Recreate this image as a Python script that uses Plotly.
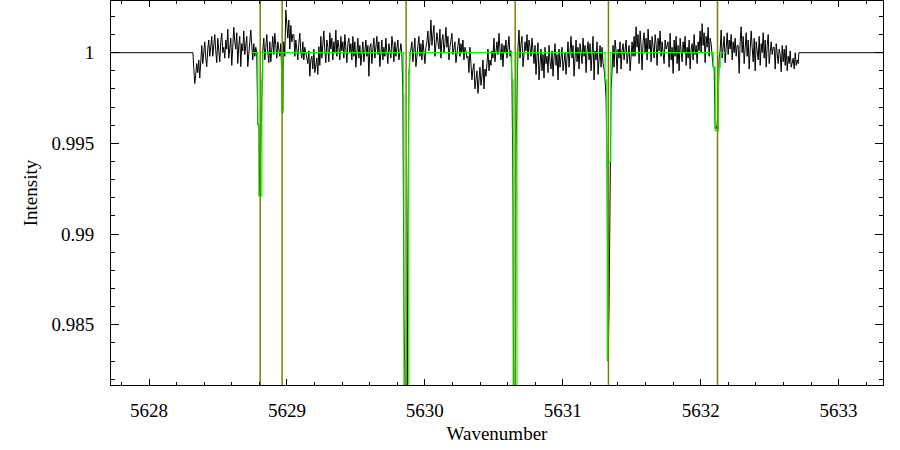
import plotly.graph_objects as go

# ---------------- data ----------------
# observed spectrum: uniform wavenumber grid, values as offsets from 1 in units of 1e-5
spec_start = 5628.324
spec_step = 0.0072569
spec_offset_1e5 = [
    -80, -170, -120, -60, -110, -40, -140, -20,
    40, -60, 10, 60, -30, -77, 20, 70, -20, 30,
    90, -20, 40, 100, 10, -55, 80, 30, -50, 60, 107, 0, 30, -30, 70, 20,
    130, -30, 50, 80, -70, 20, 140, 60, 20, 110, -60, 40, 90, -77, 50, 10,
    120, -10, 40, 90, -77, 20, 60, 125, 10, -40, 50, -20, 30, 0,
    -395, -395, -790, -500, -150, 10,
    80, -40, 30, 100, 0, -55, 60, -50, 20, 90, -10, 107, 40, -30, 60, 10, -20, 50,
    -180, -320,
    60, -20, 235, 120, 80, 180, 20, 150, 60, 100,
    100, -20, 70, 20, -40, 50, 107, 0, -30, 60, -40, 30, -10, -30,
    -60, 10, -130, -40, -20, -90, 20, -110, -70, -30, -120, 33, -70,
    90, -30, 50, 120, 10, -55, 70, 30, -50, 110, 20, 80, -40, 60, 0, 125, -20, 70, 30, -40,
    90, 10, 60, -30, 100, 20, -55, 50, 80, 0,
    50, -40, 90, -20, 60, -80, 30, 80, -30, 40, -70, 20, 60, -50, 10, 70, -20, 40, -130, 30,
    50, -60, 20, 80, -30, 40, 90, -10, 60, -77, 20, 70, -40, 30, -20, 80, 0, -60, 50, 10,
    -30, 90, 40, -50, 60, -20, 30, 70, -40, 20, 50, -10,
    -230, -1430, -2500, -2500, -2500, -980, -120, -20, 30,
    60, -50, 20, 80, -77, 0, 40, 90, -20, 50, -40, 70, 10, -60, 30, 60,
    120, 10, 60, 180, 40, 90, 150, -20, 80, 110, 60, 20, 130, -30, 70, 100, 0, 50, 140, 30,
    90, -40, 30, 70, 107, -10, 40, 60, -55, 20, 40, 80, -20, 50, 0, 70, -40, 30, 10, -30,
    -20, -110, 30, -60, -150, -90, -60, -200, -120, -100, -224, -150, -80, -180, -130, -40,
    -200, -90, -130, -60, 20, -100, -40, -70, 10, -30,
    80, -50, 30, 60, -10, 107, 20, -40, 50, -77, 40, 0, 70, -30, 30, 90, -20, 10,
    -150, -800, -2500, -2500, -550, -200, 30,
    125, -30, 50, 90, -77, 20, 60, 10, 100, -40, 70, 30, -20, 80, 0,
    -60, 40, -120, -20, 55, -150, -40, 20, -100, -10, -140, 30, -60, -20, -110, 40, -50,
    -90, 10, -130, -30, 50, -70, -10, -150, 20, -80, -40, 30, -100, -60, 0, -120, 20,
    60, -80, 20, 90, -30, 40, -130, 20, 70, -50, 30, -90, 50, 0, -60, 80, -20, 40, -110, 10, 60, -40,
    50, -100, 20, 90, -150, 10, -40, 60, -120, 0, 40, -80, 30, -60, -90,
    -150, -250, -600, -1700, -1400, -600, -200, -100,
    40, -80, 70, 10, -114, 20, -30, 60, -90, 10, 50, -40, 30, 70, -60, 0, 40, -100, 20, 60, -20,
    90, -20, 143, 30, 100, -60, 120, 40, -95, 60, 110, 0, 80, -40, 130, 20, 70, -50, 90, 30,
    -30, 100, 50, -70, 80, 10, 120, -20, 60, 0, -60, 70, 20, 40,
    60, -80, 107, -40, 30, -114, 70, -20, 90, -60, 40, -100, 80, 10, -50, 60, 0, 90, -70, 30,
    -30, 70, -90, 20, 50, -40, 100, -10, 40, -60, 60, 10,
    120, 0, 160, 40, 110, -55, 90, 30, 140, -20, 80, 50, -10,
    -80, -80, -420, -420, -400, -300, -30, 10,
    125, -30, 50, 90, -55, 60, 110, -10, 70, 20, 100, -40, 60, 0, 80, -20, 40,
    40, -114, 60, 143, 0, 90, -60, 30, 110, -20, 70, -90, 20, 120, 30, -50, 80, -100, 60, 10,
    -40, 90, -70, 50, 0, 110, -30, 70, -80, 40, 100, -60, 20, 60, -10, 30,
    30, -90, 50, -20, -60, 20, -10, -105, 40, -50, 20, -70, 40, -100, -20, -60, 10, -80, -50, -30,
    -90, 0, -70, -40, -60,
]
# flat continuum outside the observed range
flat_left_x = [5627.5, 5628.318]
flat_right_x = [5632.712, 5633.5]
flat_y = [1.0, 1.0]

# fitted model (stepped)
model_x = [5628.743, 5628.789, 5628.796, 5628.818, 5628.825, 5628.962, 5628.972,
           5629.843, 5629.848, 5629.883, 5629.890, 5630.630, 5630.640, 5630.668,
           5631.307, 5631.319, 5631.322, 5631.330, 5631.348, 5632.091, 5632.105,
           5632.128, 5632.142, 5632.178]
model_y = [1.0, 0.9960, 0.9921, 0.9985, 1.0, 0.9967, 1.0,
           0.9977, 0.975, 0.9988, 1.0, 0.9985, 0.975, 1.0,
           0.9985, 0.9940, 0.9831, 0.9940, 1.0, 0.9992, 0.9957,
           0.9992, 1.0, 1.0]

# line position markers
line_positions = [5628.806, 5628.965, 5629.864, 5630.655, 5631.331, 5632.122]

x_range = [5627.724, 5633.322]
y_range = [0.98168, 1.00285]
x_ticks = [5628, 5629, 5630, 5631, 5632, 5633]
y_ticks = [0.985, 0.99, 0.995, 1.0]
y_tick_text = ["0.985", "0.99", "0.995", "1"]

# ---------------- figure ----------------
spec_x = [spec_start + spec_step * i for i in range(len(spec_offset_1e5))]
spec_y = [1 + v * 1e-5 for v in spec_offset_1e5]

all_x = flat_left_x + spec_x + flat_right_x
all_y = flat_y + spec_y + flat_y

fig = go.Figure()
fig.add_trace(go.Scatter(x=all_x, y=all_y, mode="lines",
                         line=dict(color="black", width=1), showlegend=False))
fig.add_trace(go.Scatter(x=model_x, y=model_y, mode="lines", line_shape="hv",
                         line=dict(color="#00ff00", width=1.2), showlegend=False))
for lp in line_positions:
    fig.add_trace(go.Scatter(x=[lp, lp], y=[y_range[0] - 0.01, y_range[1] + 0.01],
                             mode="lines", line=dict(color="#808000", width=1.5),
                             showlegend=False))

font = dict(family="Liberation Serif, Times New Roman, serif", size=19, color="black")

fig.update_layout(
    width=900, height=450,
    margin=dict(l=111, r=17, t=1, b=65),
    paper_bgcolor="white", plot_bgcolor="white",
    font=font,
    xaxis=dict(range=x_range, tickvals=x_ticks, ticks="inside", ticklen=6,
               tickcolor="black", showline=True, linecolor="black", linewidth=1,
               mirror="allticks", showgrid=False, zeroline=False,
               minor=dict(dtick=0.2, tick0=5628, ticks="inside", ticklen=3,
                          tickcolor="black", showgrid=False),
               ticklabelstandoff=8,
               title=dict(text="Wavenumber", font=font, standoff=6)),
    yaxis=dict(range=y_range, tickvals=y_ticks, ticktext=y_tick_text,
               ticks="inside", ticklen=8, tickcolor="black", showline=True,
               linecolor="black", linewidth=1, mirror="allticks",
               showgrid=False, zeroline=False,
               minor=dict(dtick=0.001, tick0=0.98, ticks="inside", ticklen=4,
                          tickcolor="black", showgrid=False),
               ticklabelstandoff=12,
               title=dict(text="Intensity", font=font, standoff=8)),
)

fig.write_html("out.html")
